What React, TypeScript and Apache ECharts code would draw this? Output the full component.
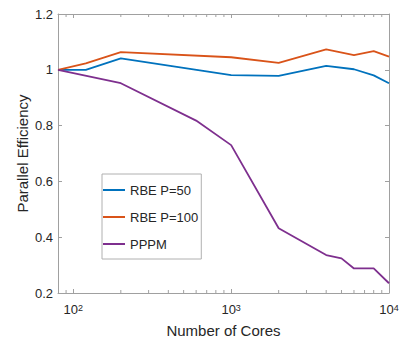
import React, { useEffect, useRef } from 'react';
import * as echarts from 'echarts';

const rbeCores = [80, 120, 200, 1000, 2000, 4000, 6000, 8000, 10000];
const rbe50 = [1.0, 1.0, 1.041, 0.981, 0.978, 1.014, 1.002, 0.98, 0.952];
const rbe100 = [1.0, 1.023, 1.063, 1.045, 1.025, 1.073, 1.053, 1.067, 1.047];
const pppmCores = [80, 200, 600, 1000, 2000, 4000, 5000, 6000, 8000, 10000];
const pppm = [1.0, 0.952, 0.818, 0.73, 0.432, 0.336, 0.324, 0.288, 0.288, 0.235];
const minorTicks = [90, 200, 300, 400, 500, 600, 700, 800, 900, 2000, 3000, 4000, 5000, 6000, 7000, 8000, 9000];
const seriesNames = ['RBE P=50', 'RBE P=100', 'PPPM'];
const colors = ['#0072BD', '#D95319', '#7E2F8E'];

const FONT = 'Liberation Sans, Arial, sans-serif';
const AXIS = '#a0a0a0';
const TEXT = '#262626';

function pow10Label(v: number): string {
  const e = Math.log10(v);
  const r = Math.round(e);
  if (Math.abs(e - r) < 1e-6) return '{b|10}{s|' + r + '}';
  return '';
}

export default function App() {
  const ref = useRef<HTMLDivElement>(null);
  useEffect(() => {
    if (!ref.current) return;
    const chart = echarts.init(ref.current, undefined, { renderer: 'svg' });
    const xCommon = {
      type: 'log' as const,
      logBase: 10,
      min: 80,
      max: 10000,
      splitLine: { show: false },
      axisLine: { show: true, lineStyle: { color: AXIS, width: 1 } },
      axisTick: { show: true, inside: true, length: 4, lineStyle: { color: AXIS } },
    };
    const yCommon = {
      type: 'value' as const,
      min: 0.2,
      max: 1.2,
      interval: 0.2,
      splitLine: { show: false },
      axisLine: { show: true, lineStyle: { color: AXIS, width: 1 } },
      axisTick: { show: true, inside: true, length: 4, lineStyle: { color: AXIS } },
    };
    chart.setOption({
      animation: false,
      backgroundColor: '#fff',
      textStyle: { fontFamily: FONT },
      grid: { left: 58, right: 13, top: 14, bottom: 46, containLabel: false, outerBoundsMode: 'none' },
      xAxis: [
        {
          ...xCommon,
          position: 'bottom',
          name: 'Number of Cores',
          nameLocation: 'middle',
          nameGap: 30,
          nameMoveOverlap: false,
          nameTextStyle: { fontSize: 15, color: TEXT, fontFamily: FONT },
          axisLabel: {
            margin: 10,
            fontSize: 13,
            color: TEXT,
            fontFamily: FONT,
            formatter: (v: number) => pow10Label(v),
            rich: {
              b: { fontSize: 13, lineHeight: 13, verticalAlign: 'bottom', color: TEXT, fontFamily: FONT },
              s: { fontSize: 9, lineHeight: 9, verticalAlign: 'top', padding: [0, 0, 9, 0], color: TEXT, fontFamily: FONT },
            },
          },
        },
        {
          ...xCommon,
          position: 'top',
          axisLabel: { show: false },
        },
      ],
      yAxis: [
        {
          ...yCommon,
          position: 'left',
          name: 'Parallel Efficiency',
          nameLocation: 'middle',
          nameGap: 28,
          nameMoveOverlap: false,
          nameTextStyle: { fontSize: 15, color: TEXT, fontFamily: FONT },
          axisLabel: { margin: 5, fontSize: 13, color: TEXT, fontFamily: FONT },
        },
        {
          ...yCommon,
          position: 'right',
          axisLabel: { show: false },
        },
      ],
      legend: {
        orient: 'vertical',
        left: 102,
        top: 174,
        icon: 'rect',
        itemWidth: 22,
        itemHeight: 2,
        itemGap: 13,
        padding: [9, 3, 8, 1],
        borderColor: '#b0b0b0',
        borderWidth: 1,
        backgroundColor: '#fff',
        textStyle: { fontSize: 13, color: TEXT, lineHeight: 14, fontFamily: FONT },
        data: seriesNames,
      },
      series: [
        {
          name: seriesNames[0],
          type: 'line',
          data: rbeCores.map((c, i) => [c, rbe50[i]]),
          showSymbol: false,
          symbol: 'none',
          lineStyle: { color: colors[0], width: 1.8 },
          itemStyle: { color: colors[0] },
        },
        {
          name: seriesNames[1],
          type: 'line',
          data: rbeCores.map((c, i) => [c, rbe100[i]]),
          showSymbol: false,
          symbol: 'none',
          lineStyle: { color: colors[1], width: 1.8 },
          itemStyle: { color: colors[1] },
        },
        {
          name: seriesNames[2],
          type: 'line',
          data: pppmCores.map((c, i) => [c, pppm[i]]),
          showSymbol: false,
          symbol: 'none',
          lineStyle: { color: colors[2], width: 1.8 },
          itemStyle: { color: colors[2] },
        },
      ],
    });
    const yBottom = chart.convertToPixel({ yAxisIndex: 0 }, 0.2) as number;
    const yTop = chart.convertToPixel({ yAxisIndex: 0 }, 1.2) as number;
    const graphics: any[] = [];
    minorTicks.forEach((v) => {
      const x = chart.convertToPixel({ xAxisIndex: 0 }, v) as number;
      graphics.push({ type: 'line', silent: true, shape: { x1: x, y1: yBottom, x2: x, y2: yBottom - 3 }, style: { stroke: AXIS, lineWidth: 1 } });
      graphics.push({ type: 'line', silent: true, shape: { x1: x, y1: yTop, x2: x, y2: yTop + 3 }, style: { stroke: AXIS, lineWidth: 1 } });
    });
    chart.setOption({ graphic: graphics });
    return () => chart.dispose();
  }, []);
  return <div ref={ref} style={{ position: 'fixed', left: 0, top: 0, width: 402, height: 339 }} />;
}
